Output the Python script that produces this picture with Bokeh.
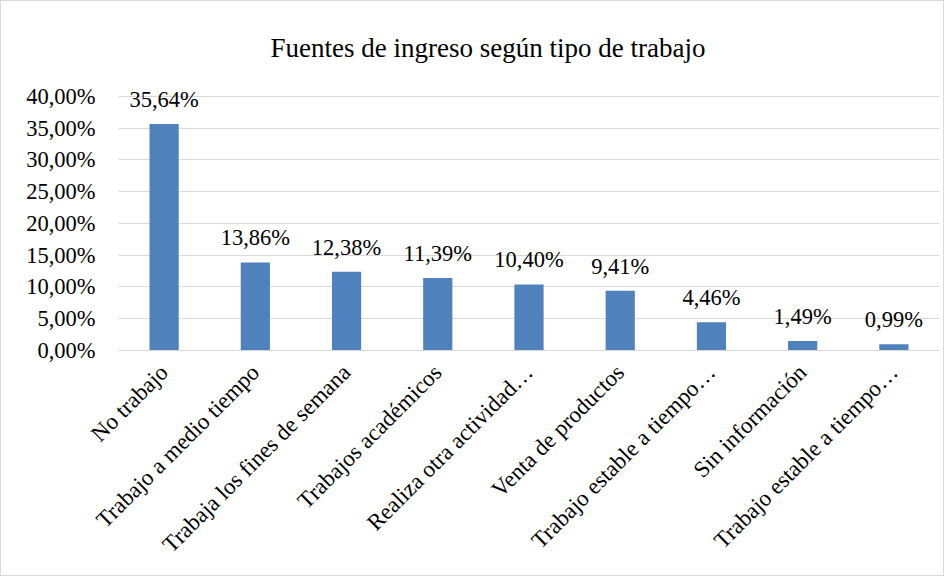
from bokeh.plotting import figure
from bokeh.models import (FixedTicker, CustomJSTickFormatter, Range1d, ColumnDataSource,
                          Title, LabelSet)
from bokeh.embed import file_html
from bokeh.resources import INLINE

categories = ["No trabajo", "Trabajo a medio tiempo", "Trabaja los fines de semana",
              "Trabajos académicos", "Realiza otra actividad…", "Venta de productos",
              "Trabajo estable a tiempo…", "Sin información", "Trabajo estable a tiempo…"]
values = [35.64, 13.86, 12.38, 11.39, 10.40, 9.41, 4.46, 1.49, 0.99]
y_ticks = [0, 5, 10, 15, 20, 25, 30, 35, 40]
title_text = "Fuentes de ingreso según tipo de trabajo"

FONT = "'Liberation Serif', 'Times New Roman', serif"
BAR = "#4F81BD"
GRID = "#D9D9D9"

xs = list(range(len(categories)))
labels = [f"{v:.2f}".replace(".", ",") + "%" for v in values]
src = ColumnDataSource(dict(x=xs, top=values, label=labels))

# y range extends above the top tick so the largest data label is not clipped
p = figure(width=944, height=576, output_backend="svg", toolbar_location=None,
           x_range=Range1d(-0.5, len(categories) - 0.5), y_range=Range1d(0, 45),
           min_border_left=117, min_border_right=6, min_border_bottom=227,
           min_border_top=63)
p.styles = {"border": "1px solid #D9D9D9"}
p.outline_line_color = None

t = Title(text=title_text, align="left", text_font=FONT, text_font_size="27px",
          text_font_style="normal", text_color="#000000", standoff=4, offset=152)
p.add_layout(t, "above")

p.vbar(x="x", top="top", width=0.32, source=src, fill_color=BAR, line_color=None)
p.add_layout(LabelSet(x="x", y="top", text="label", source=src, text_align="center",
                      text_baseline="alphabetic", y_offset=17, text_font=FONT,
                      text_font_style="normal", text_font_size="22.5px",
                      text_color="#000000"))

# y axis
p.yaxis.ticker = FixedTicker(ticks=y_ticks)
p.yaxis.formatter = CustomJSTickFormatter(code="return tick.toFixed(2).replace('.', ',') + '%';")
p.yaxis.axis_line_color = None
p.yaxis.major_tick_line_color = None
p.yaxis.minor_tick_line_color = None
p.yaxis.major_label_standoff = 17
p.yaxis.major_label_text_font = FONT
p.yaxis.major_label_text_font_size = "22.5px"
p.yaxis.major_label_text_font_style = "normal"
p.yaxis.major_label_text_color = "#000000"

p.ygrid.grid_line_color = GRID
p.ygrid.grid_line_width = 1
p.xgrid.grid_line_color = None

# x axis
p.xaxis.ticker = FixedTicker(ticks=xs)
p.xaxis.major_label_overrides = {i: c for i, c in zip(xs, categories)}
p.xaxis.major_label_orientation = 0.7853981634
p.xaxis.axis_line_color = GRID
p.xaxis.major_tick_line_color = None
p.xaxis.minor_tick_line_color = None
p.xaxis.major_label_standoff = 12
p.xaxis.major_label_text_font = FONT
p.xaxis.major_label_text_font_size = "23px"
p.xaxis.major_label_text_font_style = "normal"
p.xaxis.major_label_text_color = "#000000"

open("out.html", "w").write(file_html(p, INLINE))
